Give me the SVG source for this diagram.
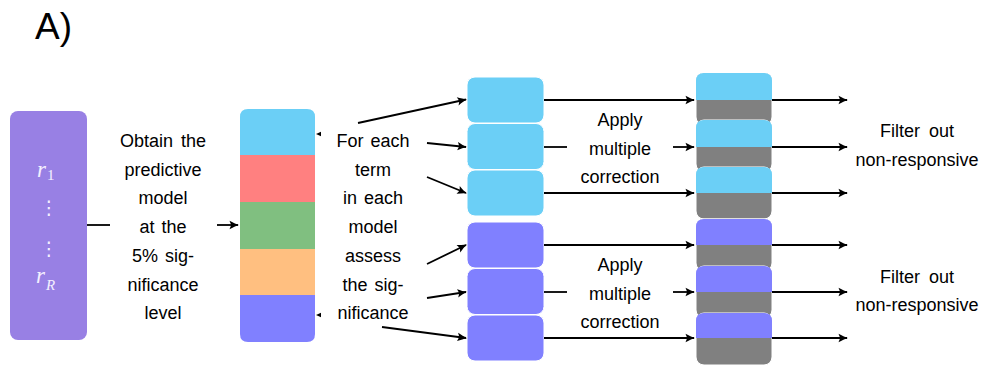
<svg xmlns="http://www.w3.org/2000/svg" width="982" height="368" viewBox="0 0 982 368">
  <defs>
    <marker id="arrow" viewBox="-10 -6 12 12" refX="0" refY="0" markerWidth="12" markerHeight="12" markerUnits="userSpaceOnUse" orient="auto">
      <path d="M 1 0 C -2 -0.8 -5 -2.5 -8.5 -4.2 L -6.8 0 L -8.5 4.2 C -5 2.5 -2 0.8 1 0 Z" fill="#000"/>
    </marker>
    <style>
      .lbl { font-family: "Liberation Sans", Arial, sans-serif; font-size: 18px; fill: #000; text-anchor: middle; }
      .math { font-family: "Liberation Serif", "Times New Roman", serif; font-style: italic; font-size: 23px; fill: #f4f0ff; }
      .sub { font-family: "Liberation Serif", "Times New Roman", serif; font-size: 15px; fill: #f4f0ff; }
      .dots { font-family: "DejaVu Sans", sans-serif; font-size: 19px; fill: #f4f0ff; text-anchor: middle; }
      .conn { stroke: #000; stroke-width: 1.8; fill: none; }
      .arr { stroke: #000; stroke-width: 1.8; fill: none; marker-end: url(#arrow); }
      .cy { fill: #6bcff6; }
      .bl { fill: #8080ff; }
      .gr { fill: #808080; }
      .edge { stroke: #ffffff; stroke-width: 1; }
    </style>
  </defs>

  <!-- panel label -->
  <text x="35" y="39" font-family="Liberation Sans, Arial, sans-serif" font-size="37" fill="#000">A)</text>

  <!-- responses r_1 ... r_R -->
  <g id="responses">
    <rect x="10" y="111" width="77" height="229" rx="8" fill="#9880e4"/>
    <text x="37" y="177" class="math">r</text>
    <text x="47" y="180" class="sub">1</text>
    <text x="49" y="214" class="dots">⋮</text>
    <text x="49" y="255" class="dots">⋮</text>
    <text x="36" y="283" class="math">r</text>
    <text x="46" y="290" class="sub" font-style="italic">R</text>
  </g>

  <!-- step labels -->
  <g id="obtain-model">
    <text class="lbl" x="163" y="147" word-spacing="3">Obtain the</text>
    <text class="lbl" x="163" y="175.7">predictive</text>
    <text class="lbl" x="163" y="204.4">model</text>
    <text class="lbl" x="163" y="233" word-spacing="2">at the</text>
    <text class="lbl" x="163" y="261.8" word-spacing="2">5% sig-</text>
    <text class="lbl" x="163" y="290.5">nificance</text>
    <text class="lbl" x="163" y="319.2">level</text>
  </g>

  <!-- model terms stack -->
  <g id="model-terms">
    <path d="M240 155 V117 Q240 109 248 109 H307 Q315 109 315 117 V155 Z" fill="#6bcff6"/>
    <rect x="240" y="155" width="75" height="47" fill="#ff8080"/>
    <rect x="240" y="202" width="75" height="47" fill="#80bf80"/>
    <rect x="240" y="249" width="75" height="46" fill="#ffbf80"/>
    <path d="M240 295 V334 Q240 342 248 342 H307 Q315 342 315 334 V295 Z" fill="#8080ff"/>
  </g>

  <g id="assess-terms">
    <text class="lbl" x="373" y="147" word-spacing="2">For each</text>
    <text class="lbl" x="373" y="175.7">term</text>
    <text class="lbl" x="373" y="204.4" word-spacing="2">in each</text>
    <text class="lbl" x="373" y="233">model</text>
    <text class="lbl" x="373" y="261.8">assess</text>
    <text class="lbl" x="373" y="290.5" word-spacing="2">the sig-</text>
    <text class="lbl" x="373" y="319.2">nificance</text>
  </g>

  <!-- per-term significance boxes -->
  <g id="terms-a">
    <rect class="cy edge" x="467" y="77" width="77" height="46" rx="8"/>
    <rect class="cy edge" x="467" y="123.5" width="77" height="46" rx="8"/>
    <rect class="cy edge" x="467" y="170" width="77" height="46" rx="8"/>
  </g>
  <g id="terms-b">
    <rect class="bl edge" x="467" y="222" width="77" height="46" rx="8"/>
    <rect class="bl edge" x="467" y="268.5" width="77" height="46" rx="8"/>
    <rect class="bl edge" x="467" y="315" width="77" height="46" rx="8"/>
  </g>

  <g id="correction-a">
    <text class="lbl" x="620" y="126">Apply</text>
    <text class="lbl" x="620" y="154.5">multiple</text>
    <text class="lbl" x="620" y="183">correction</text>
  </g>
  <g id="correction-b">
    <text class="lbl" x="620" y="271">Apply</text>
    <text class="lbl" x="620" y="299.5">multiple</text>
    <text class="lbl" x="620" y="328">correction</text>
  </g>

  <!-- corrected boxes: coloured retained part over grey filtered part -->
  <g id="corrected-a">
    <rect class="gr edge" x="696" y="73" width="76" height="52" rx="8"/>
    <path class="cy" d="M696 100 V81 Q696 73 704 73 H764 Q772 73 772 81 V100 Z"/>
    <rect class="gr edge" x="696" y="120" width="76" height="52" rx="8"/>
    <path class="cy" d="M696 147 V128 Q696 120 704 120 H764 Q772 120 772 128 V147 Z"/>
    <rect class="gr edge" x="696" y="167" width="76" height="52" rx="8"/>
    <path class="cy" d="M696 193 V175 Q696 167 704 167 H764 Q772 167 772 175 V193 Z"/>
  </g>
  <g id="corrected-b">
    <rect class="gr edge" x="696" y="219" width="76" height="52" rx="8"/>
    <path class="bl" d="M696 245 V227 Q696 219 704 219 H764 Q772 219 772 227 V245 Z"/>
    <rect class="gr edge" x="696" y="266" width="76" height="52" rx="8"/>
    <path class="bl" d="M696 292 V274 Q696 266 704 266 H764 Q772 266 772 274 V292 Z"/>
    <rect class="gr edge" x="696" y="313" width="76" height="52" rx="8"/>
    <path class="bl" d="M696 338 V321 Q696 313 704 313 H764 Q772 313 772 321 V338 Z"/>
  </g>

  <g id="filter-a">
    <text class="lbl" x="917" y="137" word-spacing="4">Filter out</text>
    <text class="lbl" x="917" y="166">non-responsive</text>
  </g>
  <g id="filter-b">
    <text class="lbl" x="917" y="282.7" word-spacing="4">Filter out</text>
    <text class="lbl" x="917" y="310.7">non-responsive</text>
  </g>

  <!-- connectors -->
  <g id="connectors">
    <line class="conn" x1="87" y1="225" x2="110" y2="225"/>
    <line class="arr" x1="217" y1="225" x2="238" y2="225"/>

    <path d="M316 134 L321 131.8 L321 136.2 Z" fill="#000"/>
    <path d="M316 315 L321 312.8 L321 317.2 Z" fill="#000"/>

    <line class="arr" x1="358" y1="123" x2="466" y2="99.5"/>
    <line class="arr" x1="427" y1="143" x2="466" y2="147"/>
    <line class="arr" x1="427" y1="177" x2="466" y2="193"/>
    <line class="arr" x1="427" y1="264" x2="466" y2="245"/>
    <line class="arr" x1="427" y1="298" x2="466" y2="292"/>
    <line class="arr" x1="382" y1="327" x2="466" y2="338"/>

    <line class="arr" x1="544" y1="100" x2="694" y2="100"/>
    <line class="conn" x1="544" y1="147" x2="567" y2="147"/>
    <line class="arr" x1="673" y1="147" x2="694" y2="147"/>
    <line class="arr" x1="544" y1="193" x2="694" y2="193"/>
    <line class="arr" x1="544" y1="245" x2="694" y2="245"/>
    <line class="conn" x1="544" y1="292" x2="567" y2="292"/>
    <line class="arr" x1="673" y1="292" x2="694" y2="292"/>
    <line class="arr" x1="544" y1="338" x2="694" y2="338"/>

    <line class="arr" x1="772" y1="100" x2="847" y2="100"/>
    <line class="arr" x1="772" y1="147" x2="847" y2="147"/>
    <line class="arr" x1="772" y1="193" x2="847" y2="193"/>
    <line class="arr" x1="772" y1="245" x2="847" y2="245"/>
    <line class="arr" x1="772" y1="292" x2="847" y2="292"/>
    <line class="arr" x1="772" y1="338" x2="847" y2="338"/>
  </g>
</svg>
